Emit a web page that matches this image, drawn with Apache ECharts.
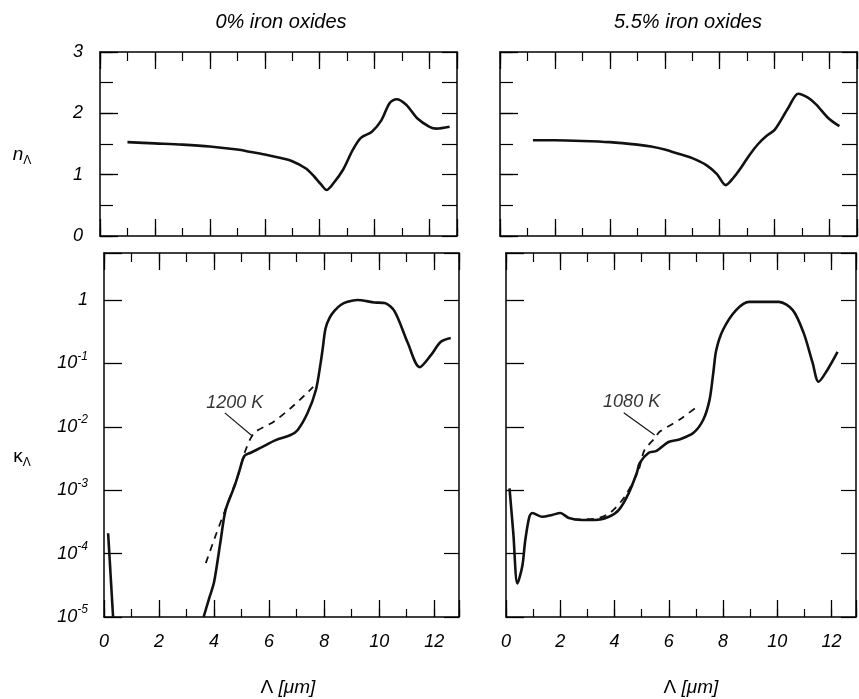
<!DOCTYPE html>
<html><head><meta charset="utf-8">
<script src="https://cdn.jsdelivr.net/npm/echarts@6/dist/echarts.min.js"></script>
<style>html,body{margin:0;padding:0;background:#fff}#c{width:859px;height:699px}</style>
</head><body><div id="c"></div>
<script>
const FONT = '"Liberation Sans", Arial, Helvetica, sans-serif';

// ---------- data ----------
// refractive index n, 0% iron oxides
const nLeftX = [1.0, 2.0, 3.0, 4.0, 5.0, 5.5, 6.0, 6.5, 7.0, 7.5, 7.8, 8.05, 8.25, 8.5, 8.85, 9.2, 9.5, 9.9, 10.25, 10.55, 10.8, 11.15, 11.55, 12.0, 12.25, 12.73];
const nLeftY = [1.53, 1.51, 1.49, 1.46, 1.41, 1.37, 1.33, 1.28, 1.22, 1.10, 0.97, 0.84, 0.75, 0.86, 1.08, 1.40, 1.60, 1.70, 1.89, 2.17, 2.23, 2.14, 1.92, 1.78, 1.75, 1.78];
// refractive index n, 5.5% iron oxides
const nRightX = [1.2, 2.0, 3.0, 4.0, 5.0, 5.5, 6.0, 6.5, 7.0, 7.5, 7.9, 8.22, 8.5, 8.8, 9.1, 9.4, 9.7, 10.0, 10.5, 10.86, 11.2, 11.5, 11.96, 12.36];
const nRightY = [1.56, 1.56, 1.55, 1.53, 1.49, 1.46, 1.41, 1.34, 1.27, 1.16, 1.01, 0.83, 0.95, 1.13, 1.33, 1.50, 1.63, 1.73, 2.09, 2.32, 2.26, 2.15, 1.92, 1.79];
// absorption index kappa (log10 values), 0% iron oxides
const kLeftX = [3.62, 3.84, 4.0, 4.24, 4.42, 4.74, 4.93, 5.1, 5.33, 5.7, 6.24, 6.78, 7.04, 7.4, 7.7, 7.87, 7.95, 8.05, 8.2, 8.38, 8.6, 8.85, 9.2, 9.83, 10.2, 10.56, 11.04, 11.47, 11.88, 12.24, 12.6];
const kLeftLog = [-5.0, -4.68, -4.45, -3.79, -3.31, -2.94, -2.68, -2.46, -2.41, -2.33, -2.21, -2.13, -2.05, -1.78, -1.42, -1.0, -0.76, -0.45, -0.28, -0.17, -0.08, -0.03, 0.0, -0.04, -0.05, -0.18, -0.68, -1.06, -0.87, -0.66, -0.6];
const kLeftStubX = [0.15, 0.33];
const kLeftStubLog = [-3.68, -5.0];
const dashLeftX = [3.7, 4.06, 4.38, 4.67, 4.92, 5.1, 5.45, 6.17, 6.8, 7.3, 7.6];
const dashLeftLog = [-4.15, -3.71, -3.34, -3.0, -2.71, -2.42, -2.1, -1.92, -1.7, -1.5, -1.37];
// absorption index kappa (log10 values), 5.5% iron oxides
const kRightX = [0.13, 0.27, 0.42, 0.6, 0.71, 0.86, 0.97, 1.34, 1.7, 2.0, 2.32, 2.8, 3.28, 3.79, 4.16, 4.52, 4.82, 4.93, 5.26, 5.55, 5.99, 6.39, 6.9, 7.27, 7.5, 7.64, 7.75, 8.0, 8.48, 8.96, 9.58, 10.06, 10.57, 10.97, 11.3, 11.52, 11.85, 12.22];
const kRightLog = [-2.97, -3.68, -4.47, -4.2, -3.79, -3.42, -3.36, -3.42, -3.39, -3.36, -3.44, -3.47, -3.47, -3.42, -3.31, -3.05, -2.73, -2.57, -2.41, -2.38, -2.24, -2.2, -2.1, -1.89, -1.58, -1.15, -0.79, -0.47, -0.16, -0.03, -0.03, -0.03, -0.16, -0.52, -0.99, -1.29, -1.1, -0.82];
const dashRightX = [2.5, 3.3, 3.83, 4.38, 4.89, 5.1, 5.48, 5.66, 6.39, 7.12];
const dashRightLog = [-3.46, -3.45, -3.36, -3.1, -2.68, -2.37, -2.18, -2.08, -1.89, -1.66];
// annotations
const annotLeft = { text: '1200 K', x: 4.75, y: -1.62 };
const leaderLeftX = [4.39, 5.4];
const leaderLeftLog = [-1.78, -2.15];
const annotRight = { text: '1080 K', x: 4.63, y: -1.61 };
const leaderRightX = [4.34, 5.48];
const leaderRightLog = [-1.78, -2.13];
// tick labels
const xTickLabels = [0, 2, 4, 6, 8, 10, 12];
const nTickLabels = [0, 1, 2, 3];
const kTickExponents = [-5, -4, -3, -2, -1, 0];
const panelTitles = ['0% iron oxides', '5.5% iron oxides'];

// ---------- layout ----------
const grids = [
  { left: 100, top: 52, width: 357, height: 184 },
  { left: 500, top: 52, width: 357, height: 184 },
  { left: 104, top: 253, width: 355, height: 364 },
  { left: 506, top: 253, width: 352, height: 364 }
];
const xMax = [13, 13, 12.9, 12.9];
const BLACK = '#000';
const lineFrame = { show: true, onZero: false, lineStyle: { color: BLACK, width: 1.5 } };
const noLine = { show: false, onZero: false };
const labelBase = { color: BLACK, fontFamily: FONT, fontStyle: 'italic', fontSize: 18 };

const xAxes = [], yAxes = [];
const mainX = [], mainY = [];
function addX(o) { xAxes.push(Object.assign({ type: 'value', splitLine: { show: false } }, o)); return xAxes.length - 1; }
function addY(o) { yAxes.push(Object.assign({ type: 'value', splitLine: { show: false } }, o)); return yAxes.length - 1; }

for (let g = 0; g < 4; g++) {
  const isBottom = g >= 2;
  const isLeftCol = g % 2 === 0;
  const base = { gridIndex: g, min: 0, max: xMax[g] };
  mainX[g] = addX(Object.assign({}, base, {
    position: 'bottom', interval: 2, axisLine: lineFrame,
    axisTick: { show: true, inside: true, length: 17, lineStyle: { color: BLACK, width: 1.3 } },
    axisLabel: Object.assign({}, labelBase, {
      show: isBottom, margin: 16,
      formatter: v => xTickLabels.indexOf(v) >= 0 ? String(v) : ''
    })
  }));
  addX(Object.assign({}, base, {
    position: 'bottom', interval: 1, axisLine: noLine,
    axisTick: { show: true, inside: true, length: 8, lineStyle: { color: BLACK, width: 1.2 } },
    axisLabel: { show: false }
  }));
  addX(Object.assign({}, base, {
    position: 'top', interval: 2, axisLine: lineFrame,
    axisTick: { show: true, inside: true, length: 17, lineStyle: { color: BLACK, width: 1.3 } },
    axisLabel: { show: false }
  }));
  addX(Object.assign({}, base, {
    position: 'top', interval: 1, axisLine: noLine,
    axisTick: { show: true, inside: true, length: 9, lineStyle: { color: BLACK, width: 1.2 } },
    axisLabel: { show: false }
  }));

  if (!isBottom) {
    const yb = { gridIndex: g, min: 0, max: 3 };
    mainY[g] = addY(Object.assign({}, yb, {
      position: 'left', interval: 1, axisLine: lineFrame,
      axisTick: { show: true, inside: true, length: 18, lineStyle: { color: BLACK, width: 1.3 } },
      axisLabel: Object.assign({}, labelBase, {
        show: isLeftCol, margin: 17,
        formatter: v => nTickLabels.indexOf(v) >= 0 ? String(v) : ''
      })
    }));
    addY(Object.assign({}, yb, {
      position: 'left', interval: 0.5, axisLine: noLine,
      axisTick: { show: true, inside: true, length: 13, lineStyle: { color: BLACK, width: 1.2 } },
      axisLabel: { show: false }
    }));
    addY(Object.assign({}, yb, {
      position: 'right', interval: 0.5, axisLine: lineFrame,
      axisTick: { show: true, inside: true, length: 15, lineStyle: { color: BLACK, width: 1.2 } },
      axisLabel: { show: false }
    }));
  } else {
    const yb = { gridIndex: g, min: -5, max: 0.74 };
    mainY[g] = addY(Object.assign({}, yb, {
      position: 'left', interval: 1, axisLine: lineFrame,
      axisTick: { show: true, inside: true, length: 18, lineStyle: { color: BLACK, width: 1.3 } },
      axisLabel: {
        show: isLeftCol, margin: 16, color: BLACK,
        formatter: v => {
          if (kTickExponents.indexOf(v) < 0) return '';
          if (v === 0) return '{b|1}';
          return '{b|10}{s|' + v + '}';
        },
        rich: {
          b: { fontFamily: FONT, fontStyle: 'italic', fontSize: 18, color: BLACK, lineHeight: 26, verticalAlign: 'middle' },
          s: { fontFamily: FONT, fontStyle: 'italic', fontSize: 12, color: BLACK, lineHeight: 12, verticalAlign: 'top' }
        }
      }
    }));
    addY(Object.assign({}, yb, {
      position: 'right', interval: 1, axisLine: lineFrame,
      axisTick: { show: true, inside: true, length: 15, lineStyle: { color: BLACK, width: 1.2 } },
      axisLabel: { show: false }
    }));
  }
}

function zip(xs, ys) { return xs.map((x, i) => [x, ys[i]]); }
const solid = { color: '#111', width: 2.6 };
const dashed = { color: '#111', width: 1.8, type: [7, 6] };
function lineSeries(g, xs, ys, style, smooth) {
  return {
    type: 'line', xAxisIndex: mainX[g], yAxisIndex: mainY[g], data: zip(xs, ys),
    showSymbol: false, symbol: 'none', smooth: smooth, lineStyle: style, silent: true, animation: false, z: 3
  };
}
function textSeries(g, a) {
  return {
    type: 'scatter', xAxisIndex: mainX[g], yAxisIndex: mainY[g], data: [[a.x, a.y]], symbolSize: 1,
    itemStyle: { color: 'rgba(0,0,0,0)' }, silent: true, animation: false,
    label: { show: true, position: 'inside', formatter: a.text, color: BLACK, fontFamily: FONT, fontStyle: 'italic', fontSize: 18 }
  };
}

const series = [
  lineSeries(0, nLeftX, nLeftY, solid, 0.3),
  lineSeries(1, nRightX, nRightY, solid, 0.3),
  lineSeries(2, kLeftX, kLeftLog, solid, 0.3),
  lineSeries(2, kLeftStubX, kLeftStubLog, solid, 0),
  lineSeries(2, dashLeftX, dashLeftLog, dashed, 0.25),
  lineSeries(2, leaderLeftX, leaderLeftLog, { color: '#111', width: 1.1 }, 0),
  textSeries(2, annotLeft),
  lineSeries(3, kRightX, kRightLog, solid, 0.3),
  lineSeries(3, dashRightX, dashRightLog, dashed, 0.25),
  lineSeries(3, leaderRightX, leaderRightLog, { color: '#111', width: 1.1 }, 0),
  textSeries(3, annotRight)
];

function gtext(x, y, text, rich, size) {
  return {
    type: 'text', x: x, y: y, silent: true,
    style: {
      text: text, align: 'center', verticalAlign: 'middle', fill: BLACK,
      font: 'italic ' + (size || 18) + 'px ' + FONT, rich: rich
    }
  };
}
const symRich = {
  a: { fontFamily: FONT, fontStyle: 'italic', fontSize: 19, color: BLACK, lineHeight: 24, verticalAlign: 'middle' },
  u: { fontFamily: FONT, fontSize: 19, color: BLACK, lineHeight: 24, verticalAlign: 'middle' },
  s: { fontFamily: FONT, fontSize: 12, color: BLACK, lineHeight: 12, verticalAlign: 'bottom' }
};
const graphic = [
  gtext(281, 22, panelTitles[0], null, 20),
  gtext(688, 22, panelTitles[1], null, 20),
  gtext(22, 155, '{a|n}{s|Λ}', symRich),
  gtext(22, 457, '{u|κ}{s|Λ}', symRich),
  gtext(288, 688, '{u|Λ }{a|[μm]}', symRich),
  gtext(691, 688, '{u|Λ }{a|[μm]}', symRich)
];

const chart = echarts.init(document.getElementById('c'), null, { renderer: 'canvas' });
chart.setOption({
  backgroundColor: '#fff',
  animation: false,
  grid: grids,
  xAxis: xAxes,
  yAxis: yAxes,
  series: series,
  graphic: graphic
});
</script></body></html>
